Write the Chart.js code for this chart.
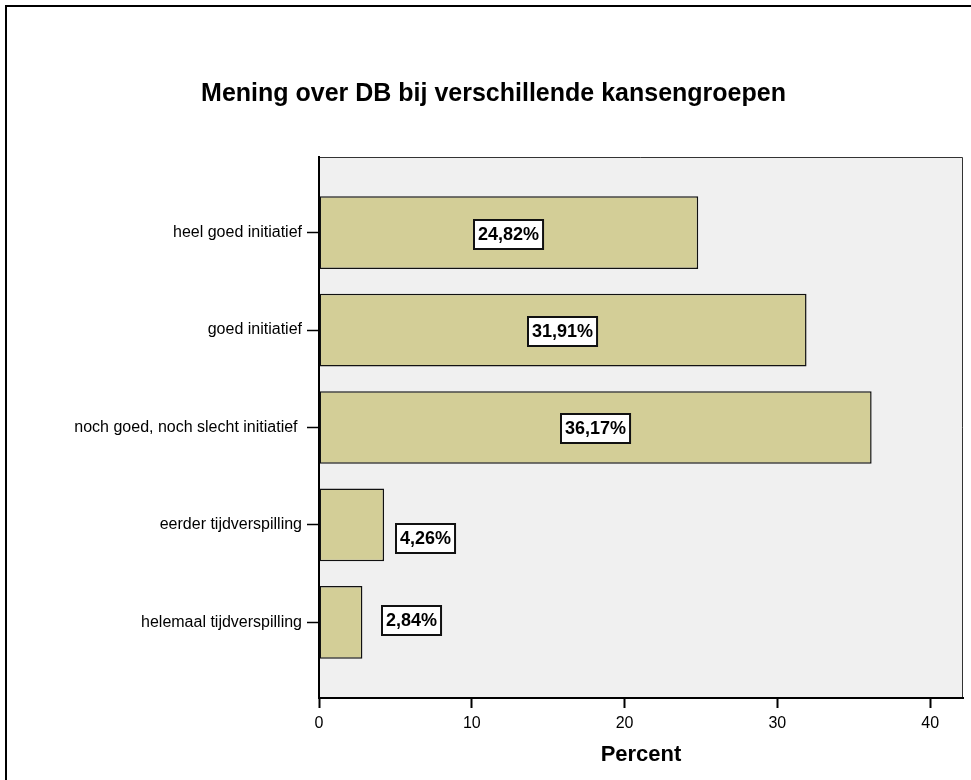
<!DOCTYPE html>
<html>
<head>
<meta charset="utf-8">
<script src="https://cdn.jsdelivr.net/npm/chart.js@4/dist/chart.umd.min.js"></script>
<style>
  html, body { margin: 0; padding: 0; background: #fff; }
  #wrap { position: relative; width: 971px; height: 780px; }
  #frame {
    position: absolute; left: 5px; top: 5px; right: 0; bottom: 0;
    border-left: 2px solid #000; border-top: 2px solid #000;
    pointer-events: none;
  }
  canvas { position: absolute; left: 0; top: 0; }
</style>
</head>
<body>
<div id="wrap">
  <canvas id="chart" width="971" height="780"></canvas>
  <div id="frame"></div>
</div>
<script>
const chartTitle = "Mening over DB bij verschillende kansengroepen";
const axisTitle = "Percent";
const categories = [
  "heel goed initiatief",
  "goed initiatief",
  "noch goed, noch slecht initiatief ",
  "eerder tijdverspilling",
  "helemaal tijdverspilling",
];
const percentages = [24.82, 31.91, 36.17, 4.26, 2.84];
const xTicks = [0, 10, 20, 30, 40];

const barColor = "#d3ce97";
const fontFamily = "Arial, 'Liberation Sans', Helvetica, sans-serif";

Chart.defaults.font.family = fontFamily;
Chart.defaults.color = "#000";

const formatPercent = (v) => `${v.toFixed(2).replace(".", ",")}%`;

// grey plot area with thin frame on top/right (SPSS style)
const plotBackground = {
  id: "plotBackground",
  beforeDraw(chart) {
    const { ctx, chartArea: a } = chart;
    ctx.save();
    ctx.fillStyle = "#f0f0f0";
    ctx.fillRect(a.left, a.top, a.right - a.left, a.bottom - a.top);
    ctx.strokeStyle = "#333";
    ctx.lineWidth = 1;
    ctx.beginPath();
    ctx.moveTo(a.left, a.top + 0.5);
    ctx.lineTo(a.right - 0.5, a.top + 0.5);
    ctx.lineTo(a.right - 0.5, a.bottom);
    ctx.stroke();
    ctx.restore();
  },
};

// boxed value labels, inside long bars, next to short ones
const boxedLabels = {
  id: "boxedLabels",
  afterDatasetsDraw(chart, _args, opts) {
    const { ctx } = chart;
    const meta = chart.getDatasetMeta(0);
    ctx.save();
    ctx.font = `bold 18px ${fontFamily}`;
    ctx.textBaseline = "middle";
    ctx.textAlign = "center";
    meta.data.forEach((bar, i) => {
      const text = formatPercent(percentages[i]);
      const w = ctx.measureText(text).width + 8;
      const h = 29;
      const nudge = opts.nudges[i] || [0, 0];
      const start = Math.min(bar.x, bar.base);
      const end = Math.max(bar.x, bar.base);
      let cx = (start + end) / 2;
      if (end - start < w + 20) cx = end + nudge[0] + w / 2;
      const cy = bar.y + nudge[1];
      const x0 = Math.round(cx - w / 2);
      const y0 = Math.round(cy - h / 2);
      ctx.fillStyle = "#fff";
      ctx.fillRect(x0, y0, w, h);
      ctx.strokeStyle = "#111";
      ctx.lineWidth = 2;
      ctx.strokeRect(x0, y0, w, h);
      ctx.fillStyle = "#000";
      ctx.fillText(text, x0 + w / 2, y0 + h / 2 + 1);
    });
    ctx.restore();
  },
};

new Chart(document.getElementById("chart"), {
  type: "bar",
  data: {
    datasets: [
      {
        data: percentages.map((v, i) => ({ x: v, y: i })),
        backgroundColor: barColor,
        borderColor: "#111",
        borderWidth: 1.5,
        borderSkipped: false,
        categoryPercentage: 1,
        barPercentage: 0.746,
      },
    ],
  },
  options: {
    indexAxis: "y",
    responsive: false,
    animation: false,
    layout: { padding: { left: 24, right: 8, top: 0, bottom: 0 } },
    plugins: {
      legend: { display: false },
      tooltip: { enabled: false },
      title: {
        display: true,
        text: chartTitle,
        color: "#000",
        font: { size: 25, weight: "bold" },
        padding: { top: 79, bottom: 48 },
      },
      boxedLabels: {
        nudges: [[0, 2], [0, 1], [0, 1], [12, 14], [20, -2]],
      },
    },
    scales: {
      x: {
        type: "linear",
        min: 0,
        max: 42.15,
        afterBuildTicks: (scale) => {
          scale.ticks = xTicks.map((value) => ({ value }));
        },
        afterFit: (scale) => {
          scale.height = 82;
        },
        ticks: { color: "#000", font: { size: 16 }, padding: 6 },
        grid: { drawOnChartArea: false, tickLength: 10, tickColor: "#000", tickWidth: 2 },
        border: { color: "#000", width: 2 },
        title: {
          display: true,
          text: axisTitle,
          color: "#000",
          font: { size: 22, weight: "bold" },
          padding: { top: 0, bottom: 12 },
        },
      },
      y: {
        type: "linear",
        reverse: true,
        offset: false,
        min: -0.775,
        max: categories.length - 1 + 0.775,
        afterBuildTicks: (scale) => {
          scale.ticks = categories.map((_, i) => ({ value: i }));
        },
        afterFit: (scale) => {
          scale.width = 295;
        },
        ticks: {
          color: "#000",
          font: { size: 16 },
          padding: 5,
          autoSkip: false,
          callback: (value) => categories[value],
        },
        grid: {
          offset: false,
          drawOnChartArea: false,
          tickLength: 12,
          tickColor: "#000",
          tickWidth: 1.5,
        },
        border: { color: "#000", width: 2 },
      },
    },
  },
  plugins: [plotBackground, boxedLabels],
});
</script>
</body>
</html>
